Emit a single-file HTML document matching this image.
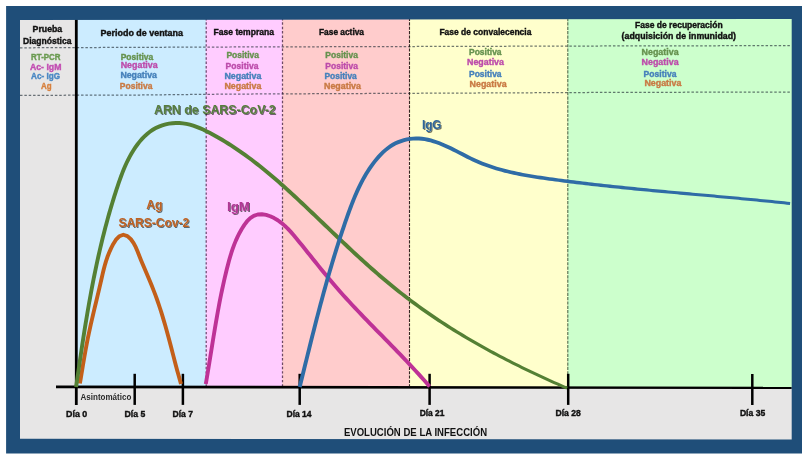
<!DOCTYPE html>
<html lang="es">
<head>
<meta charset="utf-8">
<title>Evolución de la infección</title>
<style>
  html, body { margin: 0; padding: 0; background: #ffffff; }
  body { width: 805px; height: 459px; overflow: hidden; }
  svg { display: block; }
  text { font-family: "Liberation Sans", sans-serif; font-weight: bold; }
  .h  { font-size: 8.9px; fill: #111111; }
  .r  { font-size: 8.75px; }
  .d  { font-size: 9px; fill: #111111; }
  .big { font-size: 13.5px; }
  .h, .d { stroke: #111111; stroke-width: 0.4px; }
  .g { fill: #66924f; stroke: #66924f; stroke-width: 0.38px; }
  .m { fill: #bd4cab; stroke: #bd4cab; stroke-width: 0.38px; }
  .b { fill: #4681bb; stroke: #4681bb; stroke-width: 0.38px; }
  .o { fill: #c97a44; stroke: #c97a44; stroke-width: 0.38px; }
</style>
</head>
<body>
<svg width="805" height="459" viewBox="0 0 805 459">
  <defs>
    <filter id="sh" x="-10%" y="-30%" width="120%" height="170%">
      <feGaussianBlur in="SourceAlpha" stdDeviation="0.7"/>
      <feOffset dx="0.5" dy="0.7" result="o"/>
      <feComponentTransfer><feFuncA type="linear" slope="0.55"/></feComponentTransfer>
      <feMerge><feMergeNode/><feMergeNode in="SourceGraphic"/></feMerge>
    </filter>
  </defs>

  <!-- page + frame -->
  <rect x="0" y="0" width="805" height="459" fill="#ffffff"/>
  <rect x="19" y="18" width="773.5" height="422" fill="#e7e6e6"/>

  <!-- phase bands -->
  <rect x="77"    y="18" width="129"   height="369.5" fill="#ccecff"/>
  <rect x="205.8" y="18" width="76.8"  height="369.5" fill="#ffccff"/>
  <rect x="282.4" y="18" width="127.2" height="369.5" fill="#ffcccc"/>
  <rect x="409.4" y="18" width="158.6" height="369.5" fill="#ffffcc"/>
  <rect x="567.8" y="18" width="225"   height="369.5" fill="#ccffcc"/>

  <!-- dashed guides -->
  <g fill="none">
    <polyline points="20,47.8 230,47.0 600,46.0 791.6,45.6" stroke="#1c2630" stroke-opacity="0.62" stroke-width="1.25" stroke-dasharray="2.5 1.86"/>
    <polyline points="20,95.4 140,95.0 230,94.1 600,92.45 791.6,92.0" stroke="#1c2630" stroke-opacity="0.62" stroke-width="1.25" stroke-dasharray="2.5 1.86"/>
    <line x1="206.2" y1="18" x2="206.2" y2="386" stroke="#301030" stroke-opacity="0.7" stroke-width="1.25" stroke-dasharray="2.45 1.91"/>
    <line x1="282.5" y1="18" x2="282.5" y2="386" stroke="#301030" stroke-opacity="0.7" stroke-width="1.25" stroke-dasharray="2.45 1.91"/>
    <line x1="409.5" y1="18" x2="409.5" y2="386" stroke="#201010" stroke-opacity="0.9" stroke-width="1.1" stroke-dasharray="3.1 1.26"/>
    <line x1="567.8" y1="18" x2="567.8" y2="386" stroke="#203820" stroke-opacity="0.75" stroke-width="1.1" stroke-dasharray="3.2 1.16"/>
  </g>

  <!-- axes -->
  <g stroke="#000000" fill="none">
    <line x1="76.3" y1="18" x2="76.3" y2="404.9" stroke-width="2.8"/>
    <polygon points="56,385.4 791.7,386.8 791.7,389 56,388.2" fill="#000000" stroke="none"/>
    <line x1="134.7" y1="373.8" x2="134.7" y2="404.9" stroke-width="2.5"/>
    <line x1="182.9" y1="373.8" x2="182.9" y2="404.9" stroke-width="2.5"/>
    <line x1="299.7" y1="373.8" x2="299.7" y2="404.9" stroke-width="2.5"/>
    <line x1="429.6" y1="373.8" x2="429.6" y2="404.9" stroke-width="2.5"/>
    <line x1="568.2" y1="373.8" x2="568.2" y2="404.9" stroke-width="2.5"/>
    <line x1="752.3" y1="374"   x2="752.3" y2="405" stroke-width="2.5"/>
  </g>

  <!-- frame (drawn over band/axis tops so the inner edge can follow the slightly skewed original) -->
  <path fill="#1f4e79" fill-rule="evenodd" d="M6.1,6.1 H802 V453.5 H6.1 Z M20,20 L791.7,19 L791.7,439.4 L20,438.8 Z"/>

  <!-- curves -->
  <g fill="none" stroke-linecap="butt" stroke-linejoin="round">
    <!-- Ag (orange) -->
    <path stroke="#c35f19" stroke-width="3.9" d="M79.90,383.50 L80.69,378.82 L81.46,374.18 L82.23,369.59 L82.99,365.03 L83.76,360.50 L84.54,355.98 L85.34,351.47 L86.16,346.96 L87.02,342.45 L87.91,337.91 L88.85,333.36 L89.84,328.79 L90.86,324.19 L91.91,319.59 L92.98,314.98 L94.07,310.38 L95.17,305.79 L96.27,301.21 L97.36,296.65 L98.44,292.11 L99.50,287.62 L100.53,283.16 L101.53,278.74 L102.53,274.37 L103.57,270.02 L104.69,265.70 L105.96,261.38 L107.40,257.05 L109.08,252.71 L111.03,248.35 L113.30,243.94 L115.97,239.66 L119.25,236.27 L123.31,234.76 L127.41,236.11 L130.90,239.24 L133.61,243.02 L135.77,247.21 L137.60,251.62 L139.35,256.06 L141.13,260.44 L142.93,264.78 L144.75,269.08 L146.57,273.35 L148.37,277.61 L150.16,281.86 L151.91,286.11 L153.61,290.38 L155.26,294.67 L156.85,299.00 L158.37,303.36 L159.84,307.75 L161.26,312.17 L162.63,316.61 L163.96,321.07 L165.26,325.55 L166.52,330.04 L167.75,334.54 L168.97,339.06 L170.16,343.58 L171.35,348.10 L172.53,352.62 L173.71,357.13 L174.89,361.65 L176.07,366.15 L177.27,370.64 L178.49,375.11 L179.73,379.57 L181.00,384.00"/>
    <!-- IgM (magenta) -->
    <path stroke="#be3296" stroke-width="3.9" d="M205.80,384.00 L206.52,379.77 L207.24,375.53 L207.94,371.28 L208.64,367.01 L209.34,362.74 L210.03,358.46 L210.72,354.18 L211.41,349.89 L212.10,345.60 L212.79,341.30 L213.49,337.00 L214.20,332.70 L214.92,328.41 L215.64,324.11 L216.38,319.82 L217.13,315.54 L217.90,311.26 L218.69,306.99 L219.49,302.73 L220.32,298.47 L221.17,294.23 L222.04,290.00 L222.94,285.79 L223.87,281.59 L224.83,277.41 L225.82,273.24 L226.84,269.09 L227.89,264.96 L228.99,260.86 L230.15,256.77 L231.39,252.71 L232.74,248.66 L234.21,244.63 L235.84,240.63 L237.65,236.64 L239.65,232.68 L241.88,228.73 L244.36,224.84 L247.13,221.22 L250.25,218.12 L253.75,215.81 L257.67,214.49 L261.86,214.24 L266.11,214.93 L270.23,216.27 L274.12,218.07 L277.79,220.26 L281.27,222.80 L284.58,225.62 L287.75,228.67 L290.79,231.91 L293.74,235.27 L296.61,238.71 L299.42,242.16 L302.21,245.60 L304.96,249.02 L307.69,252.42 L310.41,255.81 L313.11,259.18 L315.80,262.53 L318.48,265.87 L321.17,269.19 L323.86,272.49 L326.57,275.78 L329.29,279.05 L332.03,282.31 L334.80,285.55 L337.60,288.78 L340.43,291.99 L343.29,295.19 L346.17,298.38 L349.08,301.55 L352.02,304.71 L354.98,307.87 L357.95,311.01 L360.94,314.15 L363.95,317.28 L366.97,320.41 L370.00,323.53 L373.04,326.65 L376.08,329.77 L379.13,332.88 L382.19,335.99 L385.24,339.11 L388.29,342.22 L391.33,345.34 L394.37,348.46 L397.40,351.58 L400.42,354.71 L403.43,357.85 L406.43,360.99 L409.40,364.14 L412.36,367.30 L415.30,370.47 L418.21,373.65 L421.10,376.84 L423.96,380.05 L426.80,383.27 L429.60,386.50"/>
    <!-- ARN (green) -->
    <path fill="#548034" stroke="none" d="M78.03,387.28 L78.53,383.76 L79.03,380.25 L79.54,376.74 L80.04,373.24 L80.55,369.73 L81.06,366.22 L81.57,362.72 L82.09,359.21 L82.61,355.71 L83.13,352.21 L83.66,348.71 L84.19,345.21 L84.72,341.71 L85.27,338.21 L85.81,334.72 L86.36,331.23 L86.92,327.74 L87.49,324.25 L88.06,320.76 L88.64,317.28 L89.23,313.79 L89.82,310.31 L90.42,306.83 L91.03,303.36 L91.66,299.88 L92.28,296.41 L92.92,292.94 L93.57,289.48 L94.23,286.01 L94.90,282.55 L95.58,279.09 L96.28,275.63 L96.98,272.18 L97.70,268.73 L98.43,265.28 L99.17,261.83 L99.92,258.39 L100.69,254.95 L101.47,251.52 L102.27,248.08 L103.08,244.65 L103.91,241.23 L104.75,237.80 L105.60,234.38 L106.47,230.97 L107.36,227.55 L108.27,224.15 L109.19,220.74 L110.13,217.34 L111.09,213.94 L112.06,210.55 L113.05,207.16 L114.06,203.77 L115.09,200.39 L116.14,197.01 L117.21,193.63 L118.30,190.26 L119.41,186.90 L120.54,183.54 L121.71,180.20 L122.91,176.88 L124.16,173.58 L125.47,170.31 L126.84,167.07 L128.29,163.87 L129.82,160.70 L131.44,157.58 L133.16,154.50 L134.99,151.47 L136.93,148.51 L138.98,145.63 L141.16,142.86 L143.45,140.22 L145.85,137.73 L148.38,135.43 L151.02,133.32 L153.79,131.43 L156.68,129.79 L159.70,128.38 L162.82,127.22 L166.03,126.29 L169.31,125.61 L172.64,125.17 L175.99,124.97 L179.36,125.00 L182.71,125.28 L186.04,125.80 L189.33,126.55 L192.61,127.50 L195.86,128.63 L199.09,129.92 L202.29,131.35 L205.48,132.88 L208.64,134.50 L211.78,136.18 L214.90,137.90 L217.98,139.66 L221.03,141.45 L224.06,143.28 L227.06,145.14 L230.03,147.03 L232.98,148.96 L235.90,150.91 L238.80,152.90 L241.68,154.91 L244.53,156.95 L247.36,159.02 L250.17,161.12 L252.96,163.24 L255.73,165.38 L258.49,167.55 L261.22,169.74 L263.94,171.95 L266.65,174.19 L269.33,176.44 L272.01,178.71 L274.67,181.00 L277.32,183.31 L279.96,185.63 L282.58,187.97 L285.20,190.32 L287.80,192.68 L290.40,195.06 L292.99,197.45 L295.58,199.85 L298.16,202.25 L300.73,204.67 L303.30,207.09 L305.86,209.52 L308.43,211.96 L310.99,214.40 L313.55,216.84 L316.11,219.29 L318.67,221.74 L321.22,224.19 L323.78,226.64 L326.35,229.09 L328.91,231.55 L331.47,234.00 L334.04,236.45 L336.61,238.89 L339.18,241.34 L341.76,243.78 L344.34,246.21 L346.93,248.64 L349.52,251.07 L352.12,253.49 L354.73,255.90 L357.34,258.30 L359.96,260.70 L362.58,263.09 L365.22,265.46 L367.86,267.83 L370.52,270.18 L373.19,272.52 L375.87,274.85 L378.55,277.16 L381.26,279.46 L383.97,281.74 L386.69,284.01 L389.43,286.27 L392.18,288.51 L394.94,290.73 L397.72,292.93 L400.51,295.12 L403.31,297.28 L406.13,299.43 L408.96,301.56 L411.81,303.67 L414.67,305.77 L417.54,307.84 L420.42,309.90 L423.32,311.94 L426.23,313.96 L429.15,315.97 L432.08,317.96 L435.03,319.93 L437.98,321.89 L440.95,323.82 L443.93,325.75 L446.92,327.65 L449.92,329.54 L452.93,331.41 L455.95,333.27 L458.98,335.11 L462.02,336.94 L465.07,338.75 L468.13,340.55 L471.20,342.33 L474.28,344.09 L477.36,345.84 L480.46,347.58 L483.56,349.30 L486.67,351.01 L489.79,352.70 L492.92,354.38 L496.06,356.04 L499.20,357.69 L502.35,359.33 L505.51,360.95 L508.67,362.56 L511.84,364.16 L515.02,365.75 L518.20,367.32 L521.39,368.88 L524.58,370.44 L527.78,371.98 L530.98,373.51 L534.19,375.03 L537.40,376.53 L540.62,378.03 L543.84,379.51 L547.06,380.98 L550.29,382.44 L553.53,383.89 L556.77,385.33 L560.01,386.76 L563.26,388.17 L566.50,389.58 L567.70,386.82 L564.45,385.42 L561.22,384.01 L557.98,382.58 L554.75,381.15 L551.53,379.71 L548.30,378.25 L545.09,376.78 L541.87,375.30 L538.67,373.81 L535.46,372.31 L532.27,370.80 L529.07,369.27 L525.89,367.74 L522.71,366.19 L519.53,364.62 L516.37,363.04 L513.21,361.44 L510.06,359.83 L506.92,358.21 L503.78,356.58 L500.65,354.93 L497.53,353.27 L494.42,351.60 L491.31,349.91 L488.21,348.21 L485.12,346.49 L482.04,344.76 L478.97,343.01 L475.90,341.26 L472.85,339.48 L469.80,337.69 L466.77,335.89 L463.74,334.07 L460.72,332.24 L457.72,330.39 L454.72,328.53 L451.74,326.65 L448.76,324.76 L445.80,322.85 L442.85,320.92 L439.91,318.98 L436.98,317.02 L434.06,315.04 L431.15,313.05 L428.26,311.04 L425.38,309.02 L422.51,306.98 L419.65,304.92 L416.81,302.84 L413.98,300.75 L411.16,298.64 L408.36,296.51 L405.57,294.36 L402.79,292.19 L400.03,290.01 L397.28,287.81 L394.55,285.59 L391.83,283.35 L389.12,281.10 L386.42,278.83 L383.73,276.55 L381.06,274.25 L378.39,271.93 L375.74,269.61 L373.10,267.27 L370.46,264.92 L367.83,262.56 L365.20,260.19 L362.58,257.82 L359.97,255.43 L357.37,253.03 L354.77,250.63 L352.18,248.22 L349.60,245.80 L347.02,243.37 L344.44,240.94 L341.87,238.51 L339.30,236.07 L336.73,233.62 L334.17,231.18 L331.60,228.73 L329.04,226.28 L326.48,223.83 L323.92,221.37 L321.36,218.92 L318.80,216.47 L316.24,214.02 L313.68,211.58 L311.12,209.13 L308.55,206.69 L305.98,204.26 L303.40,201.83 L300.82,199.41 L298.24,196.99 L295.64,194.59 L293.04,192.19 L290.43,189.80 L287.81,187.42 L285.18,185.06 L282.54,182.71 L279.89,180.37 L277.22,178.05 L274.54,175.75 L271.85,173.46 L269.14,171.19 L266.41,168.94 L263.67,166.71 L260.91,164.50 L258.13,162.31 L255.33,160.14 L252.52,158.00 L249.68,155.88 L246.81,153.79 L243.93,151.73 L241.02,149.69 L238.09,147.68 L235.13,145.70 L232.15,143.75 L229.13,141.84 L226.10,139.95 L223.03,138.10 L219.93,136.28 L216.80,134.50 L213.65,132.76 L210.45,131.05 L207.21,129.39 L203.93,127.81 L200.60,126.33 L197.22,124.98 L193.79,123.78 L190.31,122.77 L186.77,121.97 L183.17,121.41 L179.54,121.11 L175.90,121.07 L172.26,121.28 L168.65,121.76 L165.09,122.51 L161.60,123.51 L158.19,124.78 L154.89,126.32 L151.72,128.12 L148.71,130.18 L145.85,132.46 L143.14,134.94 L140.57,137.58 L138.15,140.38 L135.86,143.29 L133.71,146.31 L131.69,149.40 L129.79,152.54 L128.01,155.73 L126.33,158.95 L124.76,162.22 L123.27,165.51 L121.86,168.83 L120.53,172.17 L119.25,175.53 L118.03,178.90 L116.86,182.28 L115.71,185.67 L114.60,189.05 L113.50,192.45 L112.42,195.84 L111.37,199.24 L110.33,202.64 L109.31,206.05 L108.31,209.46 L107.33,212.87 L106.37,216.29 L105.43,219.71 L104.50,223.14 L103.59,226.56 L102.70,229.99 L101.82,233.43 L100.96,236.86 L100.12,240.30 L99.29,243.75 L98.47,247.19 L97.67,250.64 L96.89,254.09 L96.12,257.55 L95.36,261.01 L94.61,264.47 L93.88,267.93 L93.16,271.39 L92.45,274.86 L91.76,278.33 L91.08,281.80 L90.40,285.28 L89.74,288.75 L89.09,292.23 L88.45,295.71 L87.82,299.19 L87.19,302.68 L86.58,306.16 L85.98,309.65 L85.38,313.14 L84.79,316.63 L84.21,320.13 L83.64,323.62 L83.07,327.12 L82.51,330.62 L81.96,334.11 L81.41,337.61 L80.87,341.12 L80.33,344.62 L79.80,348.12 L79.27,351.63 L78.75,355.13 L78.23,358.64 L77.71,362.15 L77.20,365.66 L76.69,369.17 L76.18,372.68 L75.68,376.19 L75.17,379.70 L74.67,383.21 L74.17,386.72 Z"/>
    <!-- IgG (blue) -->
    <path fill="#2f6ca6" stroke="none" d="M301.59,387.47 L302.33,384.47 L303.07,381.48 L303.81,378.48 L304.54,375.49 L305.28,372.51 L306.01,369.52 L306.74,366.54 L307.48,363.55 L308.22,360.58 L308.95,357.60 L309.69,354.62 L310.43,351.65 L311.16,348.68 L311.91,345.71 L312.65,342.74 L313.39,339.78 L314.14,336.81 L314.89,333.85 L315.64,330.89 L316.39,327.93 L317.15,324.98 L317.91,322.03 L318.67,319.07 L319.44,316.12 L320.21,313.18 L320.99,310.23 L321.77,307.28 L322.55,304.34 L323.34,301.40 L324.13,298.46 L324.93,295.52 L325.73,292.59 L326.54,289.65 L327.36,286.72 L328.18,283.79 L329.01,280.86 L329.84,277.94 L330.68,275.01 L331.53,272.09 L332.38,269.16 L333.25,266.24 L334.11,263.32 L334.99,260.41 L335.88,257.49 L336.77,254.57 L337.67,251.66 L338.58,248.75 L339.50,245.84 L340.43,242.93 L341.36,240.02 L342.31,237.12 L343.26,234.21 L344.23,231.31 L345.21,228.41 L346.19,225.51 L347.19,222.61 L348.19,219.71 L349.21,216.81 L350.24,213.92 L351.29,211.04 L352.36,208.17 L353.44,205.30 L354.56,202.45 L355.70,199.61 L356.87,196.80 L358.08,194.00 L359.32,191.22 L360.60,188.46 L361.93,185.73 L363.30,183.02 L364.73,180.35 L366.20,177.70 L367.73,175.09 L369.32,172.51 L370.97,169.96 L372.68,167.46 L374.46,164.99 L376.31,162.57 L378.24,160.21 L380.23,157.91 L382.30,155.71 L384.44,153.60 L386.66,151.61 L388.96,149.76 L391.34,148.04 L393.81,146.49 L396.36,145.11 L399.00,143.90 L401.73,142.88 L404.52,142.03 L407.36,141.36 L410.24,140.87 L413.13,140.56 L416.01,140.43 L418.89,140.49 L421.74,140.71 L424.59,141.10 L427.42,141.65 L430.25,142.33 L433.07,143.14 L435.88,144.07 L438.69,145.11 L441.50,146.24 L444.30,147.45 L447.11,148.73 L449.92,150.07 L452.73,151.45 L455.54,152.87 L458.36,154.32 L461.18,155.77 L464.01,157.21 L466.85,158.65 L469.70,160.05 L472.56,161.41 L475.44,162.72 L478.32,163.96 L481.21,165.14 L484.11,166.26 L487.02,167.33 L489.93,168.33 L492.85,169.29 L495.78,170.19 L498.71,171.05 L501.64,171.86 L504.59,172.63 L507.53,173.36 L510.48,174.05 L513.44,174.70 L516.40,175.32 L519.36,175.91 L522.33,176.47 L525.31,177.01 L528.28,177.52 L531.26,178.01 L534.24,178.48 L537.23,178.94 L540.22,179.38 L543.21,179.81 L546.20,180.23 L549.20,180.65 L552.20,181.06 L555.21,181.47 L558.21,181.86 L561.22,182.26 L564.24,182.65 L567.25,183.03 L570.27,183.41 L573.30,183.78 L576.32,184.15 L579.35,184.51 L582.38,184.87 L585.42,185.22 L588.45,185.57 L591.49,185.92 L594.53,186.26 L597.57,186.60 L600.62,186.93 L603.67,187.26 L606.72,187.59 L609.77,187.91 L612.82,188.23 L615.88,188.55 L618.93,188.86 L621.99,189.17 L625.05,189.48 L628.11,189.78 L631.17,190.08 L634.24,190.38 L637.30,190.68 L640.37,190.97 L643.43,191.26 L646.50,191.55 L649.57,191.84 L652.64,192.13 L655.71,192.41 L658.77,192.69 L661.84,192.97 L664.91,193.25 L667.98,193.53 L671.06,193.81 L674.13,194.08 L677.20,194.36 L680.27,194.63 L683.34,194.90 L686.41,195.17 L689.48,195.45 L692.54,195.72 L695.61,195.99 L698.68,196.26 L701.75,196.53 L704.81,196.80 L707.88,197.07 L710.94,197.34 L714.01,197.61 L717.07,197.89 L720.13,198.16 L723.19,198.44 L726.24,198.72 L729.30,199.00 L732.35,199.28 L735.40,199.56 L738.45,199.85 L741.50,200.13 L744.55,200.42 L747.59,200.71 L750.63,201.00 L753.67,201.29 L756.71,201.58 L759.75,201.88 L762.78,202.18 L765.81,202.48 L768.83,202.79 L771.86,203.09 L774.88,203.40 L777.90,203.71 L780.91,204.03 L783.92,204.35 L786.93,204.67 L789.94,204.99 L790.26,202.01 L787.25,201.68 L784.24,201.36 L781.23,201.04 L778.21,200.73 L775.19,200.42 L772.16,200.11 L769.14,199.80 L766.11,199.50 L763.07,199.19 L760.04,198.90 L757.00,198.60 L753.96,198.30 L750.92,198.01 L747.88,197.72 L744.83,197.43 L741.78,197.14 L738.73,196.86 L735.68,196.57 L732.63,196.29 L729.57,196.01 L726.52,195.73 L723.46,195.45 L720.40,195.17 L717.34,194.89 L714.28,194.61 L711.21,194.33 L708.15,194.04 L705.09,193.76 L702.02,193.48 L698.96,193.20 L695.89,192.92 L692.82,192.64 L689.75,192.36 L686.69,192.08 L683.62,191.80 L680.55,191.51 L677.48,191.23 L674.41,190.95 L671.34,190.66 L668.27,190.38 L665.21,190.09 L662.14,189.80 L659.07,189.51 L656.00,189.22 L652.94,188.92 L649.87,188.63 L646.81,188.33 L643.74,188.03 L640.68,187.73 L637.62,187.43 L634.56,187.12 L631.50,186.81 L628.44,186.50 L625.38,186.19 L622.33,185.87 L619.28,185.55 L616.22,185.23 L613.17,184.91 L610.12,184.58 L607.08,184.25 L604.03,183.91 L600.99,183.57 L597.95,183.23 L594.91,182.88 L591.88,182.53 L588.85,182.18 L585.82,181.82 L582.79,181.45 L579.76,181.08 L576.74,180.71 L573.72,180.34 L570.71,179.95 L567.70,179.57 L564.69,179.17 L561.68,178.78 L558.68,178.38 L555.68,177.97 L552.68,177.56 L549.69,177.14 L546.70,176.71 L543.72,176.28 L540.74,175.84 L537.77,175.39 L534.80,174.93 L531.84,174.45 L528.89,173.95 L525.94,173.44 L523.00,172.90 L520.06,172.33 L517.14,171.74 L514.22,171.12 L511.30,170.47 L508.40,169.78 L505.50,169.05 L502.61,168.29 L499.73,167.48 L496.85,166.63 L493.99,165.74 L491.13,164.79 L488.28,163.80 L485.44,162.75 L482.61,161.64 L479.79,160.48 L476.97,159.26 L474.16,157.97 L471.36,156.63 L468.55,155.24 L465.74,153.81 L462.93,152.36 L460.11,150.90 L457.29,149.45 L454.46,148.01 L451.61,146.59 L448.76,145.22 L445.89,143.90 L443.00,142.64 L440.09,141.47 L437.17,140.39 L434.22,139.42 L431.24,138.56 L428.25,137.83 L425.22,137.26 L422.16,136.84 L419.08,136.59 L415.96,136.53 L412.83,136.67 L409.70,137.01 L406.59,137.54 L403.51,138.26 L400.47,139.18 L397.51,140.30 L394.62,141.62 L391.84,143.12 L389.16,144.81 L386.59,146.65 L384.13,148.64 L381.77,150.76 L379.51,152.98 L377.33,155.30 L375.25,157.70 L373.25,160.16 L371.33,162.67 L369.49,165.22 L367.72,167.80 L366.02,170.42 L364.39,173.08 L362.81,175.77 L361.30,178.48 L359.84,181.23 L358.44,183.99 L357.08,186.78 L355.77,189.60 L354.50,192.43 L353.28,195.28 L352.09,198.14 L350.93,201.01 L349.80,203.90 L348.70,206.80 L347.63,209.70 L346.57,212.60 L345.54,215.51 L344.51,218.42 L343.50,221.33 L342.50,224.25 L341.51,227.16 L340.53,230.07 L339.56,232.99 L338.60,235.90 L337.65,238.82 L336.71,241.74 L335.78,244.66 L334.86,247.58 L333.95,250.50 L333.04,253.43 L332.15,256.35 L331.26,259.28 L330.38,262.21 L329.51,265.13 L328.64,268.06 L327.78,271.00 L326.93,273.93 L326.09,276.86 L325.26,279.80 L324.43,282.74 L323.60,285.67 L322.79,288.61 L321.97,291.56 L321.17,294.50 L320.37,297.44 L319.57,300.39 L318.78,303.34 L318.00,306.28 L317.22,309.23 L316.44,312.19 L315.67,315.14 L314.90,318.09 L314.13,321.05 L313.37,324.01 L312.61,326.97 L311.86,329.93 L311.11,332.89 L310.36,335.86 L309.61,338.83 L308.86,341.79 L308.12,344.76 L307.38,347.74 L306.64,350.71 L305.90,353.68 L305.17,356.66 L304.43,359.64 L303.69,362.62 L302.96,365.60 L302.22,368.59 L301.49,371.57 L300.75,374.56 L300.02,377.55 L299.28,380.54 L298.55,383.54 L297.81,386.53 Z"/>
  </g>

  <g opacity="0.999">
  <!-- header column -->
  <text class="h" x="32.6" y="32"   textLength="29.6" lengthAdjust="spacingAndGlyphs">Prueba</text>
  <text class="h" x="23"   y="43.6" textLength="48.4" lengthAdjust="spacingAndGlyphs">Diagnóstica</text>
  <text class="r g" style="fill:#6a9a50;stroke:#6a9a50" x="31"   y="59.6" textLength="29.6" lengthAdjust="spacingAndGlyphs">RT-PCR</text>
  <text class="r m" style="fill:#c24db2;stroke:#c24db2" x="30"   y="69.6" textLength="31.4" lengthAdjust="spacingAndGlyphs">Ac- IgM</text>
  <text class="r b" style="fill:#4a88c4;stroke:#4a88c4" x="31"   y="79"   textLength="29"   lengthAdjust="spacingAndGlyphs">Ac- IgG</text>
  <text class="r o" style="fill:#d7803e;stroke:#d7803e" x="41"   y="89"   textLength="10.6" lengthAdjust="spacingAndGlyphs">Ag</text>

  <!-- phase titles -->
  <text class="h" x="100.6" y="35.6" textLength="82.4" lengthAdjust="spacingAndGlyphs">Periodo de ventana</text>
  <text class="h" x="213.6" y="35.4"   textLength="60.4" lengthAdjust="spacingAndGlyphs">Fase temprana</text>
  <text class="h" x="319"   y="35.4"   textLength="45"   lengthAdjust="spacingAndGlyphs">Fase activa</text>
  <text class="h" x="439.4" y="35.4"   textLength="92"   lengthAdjust="spacingAndGlyphs">Fase de convalecencia</text>
  <text class="h" x="635"   y="27.6" textLength="87.6" lengthAdjust="spacingAndGlyphs">Fase de recuperación</text>
  <text class="h" x="621.6" y="39.4"   textLength="114.4" lengthAdjust="spacingAndGlyphs">(adquisición de inmunidad)</text>

  <!-- results: ventana -->
  <text class="r g" x="120.7" y="59.5"   textLength="32.6" lengthAdjust="spacingAndGlyphs">Positiva</text>
  <text class="r m" x="120.7" y="68.4"   textLength="37"   lengthAdjust="spacingAndGlyphs">Negativa</text>
  <text class="r b" x="120.4" y="77.9" textLength="36.6" lengthAdjust="spacingAndGlyphs">Negativa</text>
  <text class="r o" x="119.8" y="89.4"   textLength="32.6" lengthAdjust="spacingAndGlyphs">Positiva</text>
  <!-- results: temprana -->
  <text class="r g" x="226.4" y="58.4"   textLength="32.6" lengthAdjust="spacingAndGlyphs">Positiva</text>
  <text class="r m" x="225.6" y="69.4"   textLength="32.8" lengthAdjust="spacingAndGlyphs">Positiva</text>
  <text class="r b" x="224.4" y="79.0" textLength="37"   lengthAdjust="spacingAndGlyphs">Negativa</text>
  <text class="r o" x="224.4" y="89.4"   textLength="37"   lengthAdjust="spacingAndGlyphs">Negativa</text>
  <!-- results: activa -->
  <text class="r g" x="325.3" y="58.4"   textLength="32.6" lengthAdjust="spacingAndGlyphs">Positiva</text>
  <text class="r m" x="325.3" y="69.0" textLength="32.6" lengthAdjust="spacingAndGlyphs">Positiva</text>
  <text class="r b" x="324.4" y="78.9"   textLength="32.4" lengthAdjust="spacingAndGlyphs">Positiva</text>
  <text class="r o" x="324"   y="88.6" textLength="37"   lengthAdjust="spacingAndGlyphs">Negativa</text>
  <!-- results: convalecencia -->
  <text class="r g" x="469"   y="55.4"   textLength="32.6" lengthAdjust="spacingAndGlyphs">Positiva</text>
  <text class="r m" x="467"   y="65"   textLength="37"   lengthAdjust="spacingAndGlyphs">Negativa</text>
  <text class="r b" x="469"   y="77.3" textLength="32.6" lengthAdjust="spacingAndGlyphs">Positiva</text>
  <text class="r o" x="469.6" y="87.3" textLength="37"   lengthAdjust="spacingAndGlyphs">Negativa</text>
  <!-- results: recuperación -->
  <text class="r g" x="641.6" y="54.6" textLength="37"   lengthAdjust="spacingAndGlyphs">Negativa</text>
  <text class="r m" x="641.6" y="64.6" textLength="37"   lengthAdjust="spacingAndGlyphs">Negativa</text>
  <text class="r b" x="643.6" y="77.0" textLength="32.8" lengthAdjust="spacingAndGlyphs">Positiva</text>
  <text class="r o" x="644.4" y="86.1" textLength="37"   lengthAdjust="spacingAndGlyphs">Negativa</text>

  </g>

  <!-- curve labels -->
  <g filter="url(#sh)">
    <text class="big" fill="#567c3c" x="154"   y="114.2" textLength="121.7" lengthAdjust="spacingAndGlyphs">ARN de SARS-CoV-2</text>
    <text class="big" fill="#bf6224" x="146.2" y="208.6" textLength="16.2"  lengthAdjust="spacingAndGlyphs">Ag</text>
    <text class="big" fill="#bf6224" x="118.4" y="227.1" textLength="70.8"  lengthAdjust="spacingAndGlyphs">SARS-Cov-2</text>
    <text class="big" fill="#b03894" x="227"   y="211.0" textLength="23"    lengthAdjust="spacingAndGlyphs">IgM</text>
    <text class="big" fill="#2f659a" x="421.9" y="129.4" textLength="19.4"  lengthAdjust="spacingAndGlyphs">IgG</text>
  </g>

  <g opacity="0.999">
  <!-- axis labels -->
  <text x="80.5" y="399.7" font-size="8.3" fill="#2a2a2a" textLength="50.8" lengthAdjust="spacingAndGlyphs">Asintomático</text>
  <text class="d" x="66.1"  y="416.9" textLength="21.2" lengthAdjust="spacingAndGlyphs">Día 0</text>
  <text class="d" x="124.5" y="416.9" textLength="20.7" lengthAdjust="spacingAndGlyphs">Día 5</text>
  <text class="d" x="172.5" y="416.9" textLength="20.4" lengthAdjust="spacingAndGlyphs">Día 7</text>
  <text class="d" x="286.5" y="416.9" textLength="25.1" lengthAdjust="spacingAndGlyphs">Día 14</text>
  <text class="d" x="419.7" y="416.4" textLength="24.8" lengthAdjust="spacingAndGlyphs">Día 21</text>
  <text class="d" x="555.5" y="416.4" textLength="25.3" lengthAdjust="spacingAndGlyphs">Día 28</text>
  <text class="d" x="739.9" y="416.2" textLength="25.3" lengthAdjust="spacingAndGlyphs">Día 35</text>
  <text x="343.9" y="435.9" font-size="10.5" fill="#111" textLength="143.2" lengthAdjust="spacingAndGlyphs">EVOLUCIÓN DE LA INFECCIÓN</text>
  </g>
</svg>
</body>
</html>
